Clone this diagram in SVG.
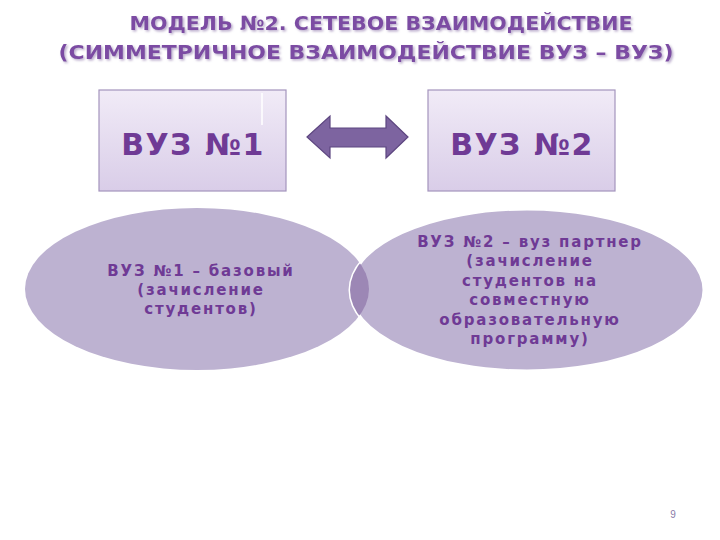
<svg xmlns="http://www.w3.org/2000/svg" width="720" height="540" viewBox="0 0 720 540">
<defs>
<linearGradient id="bx" x1="0" y1="0" x2="0" y2="1"><stop offset="0" stop-color="#f1ebf7"/><stop offset="1" stop-color="#d9cde8"/></linearGradient>
<clipPath id="c1"><ellipse cx="197" cy="289" rx="172" ry="81"/></clipPath>
<filter id="ds" x="-5%" y="-30%" width="110%" height="160%"><feDropShadow dx="1.5" dy="1.5" stdDeviation="0.8" flood-color="#b9aacb"/></filter>
</defs>
<style>
.t{font-family:"DejaVu Sans",sans-serif;font-weight:bold;fill:#7b4ca3;text-anchor:middle;font-size:20px}
.b{fill:url(#bx);stroke:#a494bd;stroke-width:1.2}
.bt{font-family:"DejaVu Sans",sans-serif;font-weight:bold;fill:#6f3a95;text-anchor:middle;font-size:30px;letter-spacing:1.5px}
.et{font-family:"DejaVu Sans",sans-serif;font-weight:bold;fill:#6f3a95;text-anchor:middle;font-size:15px;letter-spacing:1.8px}
</style>
<rect width="720" height="540" fill="#fff"/>
<g id="title" filter="url(#ds)">
<text class="t" x="381" y="30" textLength="503" lengthAdjust="spacingAndGlyphs">МОДЕЛЬ №2. СЕТЕВОЕ ВЗАИМОДЕЙСТВИЕ</text>
<text class="t" x="366" y="59" textLength="615" lengthAdjust="spacingAndGlyphs">(СИММЕТРИЧНОЕ ВЗАИМОДЕЙСТВИЕ ВУЗ – ВУЗ)</text>
</g>
<g id="ellipse1"><ellipse cx="197" cy="289" rx="172" ry="81" fill="#bdb2d1"/></g>
<g id="ellipse2"><ellipse cx="527" cy="290" rx="177" ry="81" fill="#bdb2d1" stroke="#fff" stroke-width="3"/>
<ellipse cx="527" cy="290" rx="177" ry="81" fill="#9c87b5" clip-path="url(#c1)"/></g>
<g id="e1text">
<text class="et" x="201" y="276">ВУЗ №1 – базовый</text>
<text class="et" x="201" y="295">(зачисление</text>
<text class="et" x="201" y="314">студентов)</text>
</g>
<g id="e2text">
<text class="et" x="530" y="247">ВУЗ №2 – вуз партнер</text>
<text class="et" x="530" y="266">(зачисление</text>
<text class="et" x="530" y="286">студентов на</text>
<text class="et" x="530" y="305">совместную</text>
<text class="et" x="530" y="325">образовательную</text>
<text class="et" x="530" y="344">программу)</text>
</g>
<g id="box1"><rect class="b" x="99" y="90" width="187" height="101"/><line x1="262" y1="93" x2="262" y2="125" stroke="#fff" stroke-width="1.5"/><text class="bt" x="193" y="155">ВУЗ №1</text></g>
<g id="box2"><rect class="b" x="428" y="90" width="187" height="101"/><text class="bt" x="522" y="155">ВУЗ №2</text></g>
<g id="connectors">
<path d="M307,137 L330,116 L330,128 L386,128 L386,116 L408,137 L386,158 L386,147 L330,147 L330,158 Z" fill="#7d64a0" stroke="#5d4680" stroke-width="1.2"/>
</g>
<text x="673" y="518" font-family="Liberation Sans,sans-serif" font-size="10" fill="#8a7aa8" text-anchor="middle">9</text>
</svg>
